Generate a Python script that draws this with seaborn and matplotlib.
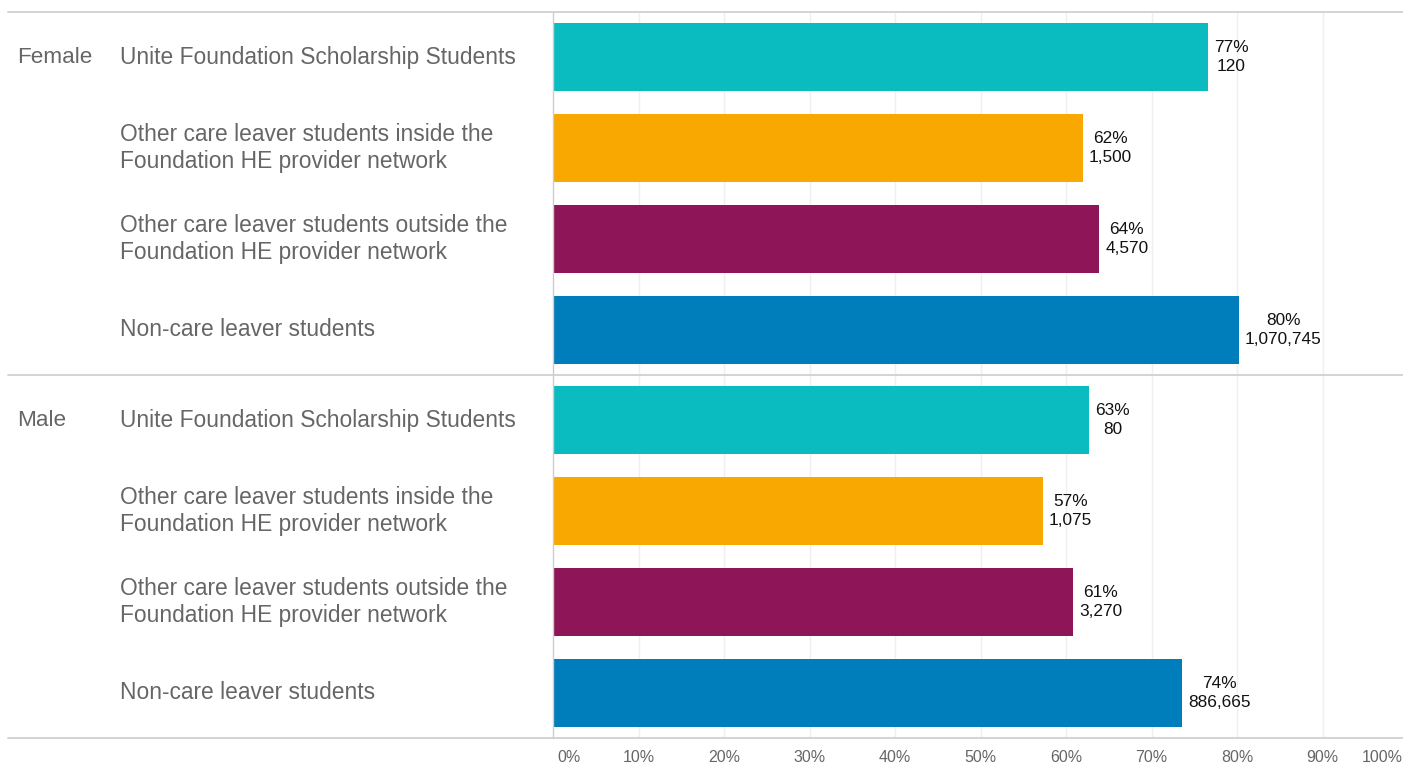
import matplotlib
matplotlib.use("Agg")
import matplotlib.pyplot as plt
import matplotlib.transforms as mtransforms
import seaborn as sns
import pandas as pd

groups = ["Female", "Male"]
categories = [
    "Unite Foundation Scholarship Students",
    "Other care leaver students inside the\nFoundation HE provider network",
    "Other care leaver students outside the\nFoundation HE provider network",
    "Non-care leaver students",
]
female_pct = [0.766, 0.620, 0.639, 0.802]
male_pct = [0.627, 0.573, 0.608, 0.736]
female_n = ["120", "1,500", "4,570", "1,070,745"]
male_n = ["80", "1,075", "3,270", "886,665"]
colors = ["#0ABCC0", "#F8A800", "#8E1558", "#007DBB"]
tick_vals = [i / 10 for i in range(11)]
tick_labels = [f"{i*10}%" for i in range(11)]

rows = []
for g, pcts, ns in [("Female", female_pct, female_n), ("Male", male_pct, male_n)]:
    for c, p, n in zip(categories, pcts, ns):
        rows.append({"group": g, "category": c, "row": f"{g}|{c}", "pct": p, "n": n})
df = pd.DataFrame(rows)

sns.set_theme(style="white")
plt.rcParams["font.family"] = ["Liberation Sans", "DejaVu Sans"]

W, H = 1403, 765
fig = plt.figure(figsize=(W / 100, H / 100), dpi=100)
ax = fig.add_axes([553 / W, 1 - 738 / H, 855 / W, (738 - 12) / H])

sns.barplot(data=df, x="pct", y="row", hue="category", palette=colors,
            orient="h", dodge=False, width=0.75, legend=False, ax=ax,
            saturation=1, linewidth=0)

ax.set_xlim(0, 1)
ax.set_ylim(7.5, -0.5)
ax.set_xlabel("")
ax.set_ylabel("")
ax.set_yticks([])
ax.set_xticks(tick_vals)
ax.set_xticklabels(tick_labels, color="#666666", fontsize=11.5)
ax.tick_params(axis="x", length=0, pad=9)
labs = ax.get_xticklabels()
labs[0].set_horizontalalignment("left")
labs[0].set_transform(labs[0].get_transform() + mtransforms.ScaledTranslation(4 / 100, 0, fig.dpi_scale_trans))
labs[-1].set_horizontalalignment("right")
labs[-1].set_transform(labs[-1].get_transform() + mtransforms.ScaledTranslation(-5 / 100, 0, fig.dpi_scale_trans))

for v in tick_vals[1:]:
    ax.axvline(v, color="#efefef", lw=1, zorder=0)

for s in ["top", "right", "bottom"]:
    ax.spines[s].set_visible(False)
ax.spines["left"].set_color("#cccccc")
ax.spines["left"].set_linewidth(1)

xmin_ax = (8 - 553) / 855
for y in [-0.5, 3.5, 7.5]:
    ax.plot([xmin_ax, 1], [y, y], transform=mtransforms.blended_transform_factory(ax.transAxes, ax.transData),
            color="#d0d0d0", lw=1.3, clip_on=False, zorder=5)

label_tr = mtransforms.blended_transform_factory(fig.transFigure, ax.transData)
for i, r in df.iterrows():
    if r["category"] == categories[0]:
        ax.text(17 / W, i, r["group"], transform=label_tr, ha="left", va="center",
                fontsize=16.2, color="#666666")
    ax.text(120 / W, i, r["category"], transform=label_tr, ha="left", va="center",
            fontsize=16.4, color="#666666", linespacing=1.22)
    ax.annotate(f"{r['pct']*100:.0f}%\n{r['n']}", xy=(r["pct"], i), xytext=(6, 0),
                textcoords="offset pixels", ha="left", va="center", multialignment="center",
                fontsize=12.4, color="#111111", linespacing=1.35)

fig.savefig("out.png", dpi=100)
